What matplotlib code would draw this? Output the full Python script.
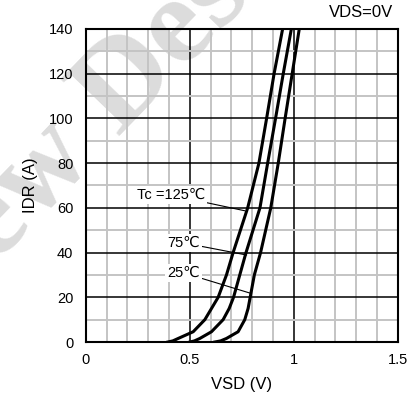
import matplotlib
matplotlib.use('Agg')
import matplotlib.pyplot as plt
from matplotlib.ticker import MultipleLocator

plt.rcParams['font.family'] = ['Liberation Sans', 'DejaVu Sans']

# values
idr = [0, 0.5, 1.6, 4.6, 10, 15, 20, 30, 40, 60, 80, 100, 120, 140]
vsd_125 = [0.394, 0.418, 0.444, 0.516, 0.572, 0.604, 0.636, 0.676, 0.708, 0.778, 0.832, 0.869, 0.905, 0.946]
vsd_75 = [0.50, 0.522, 0.548, 0.604, 0.66, 0.689, 0.71, 0.74, 0.77, 0.837, 0.874, 0.912, 0.949, 0.988]
vsd_25 = [0.62, 0.648, 0.676, 0.732, 0.764, 0.78, 0.79, 0.81, 0.84, 0.889, 0.925, 0.958, 0.992, 1.026]

x_ticks = [0, 0.5, 1, 1.5]
x_tick_labels = ['0', '0.5', '1', '1.5']
y_ticks = [0, 20, 40, 60, 80, 100, 120, 140]

fig = plt.figure(figsize=(4.17, 3.97), dpi=100)
ax = fig.add_axes([0.206, 0.1385, 0.748, 0.7885])
ax.set_facecolor('none')

# watermark
fig.text(0.312, 0.79, 'New Design', rotation=46, rotation_mode='anchor',
         ha='center', va='center', fontsize=90, fontweight='bold',
         family='Liberation Serif', color='#dcdcdc', zorder=-10)

for v in [vsd_125, vsd_75, vsd_25]:
    ax.plot(v, idr, color='black', lw=2.2, zorder=5)

ax.set_xlim(0, 1.5)
ax.set_ylim(0, 140)
ax.set_xticks(x_ticks)
ax.set_xticklabels(x_tick_labels)
ax.set_yticks(y_ticks)
ax.xaxis.set_minor_locator(MultipleLocator(0.1))
ax.yaxis.set_minor_locator(MultipleLocator(10))
ax.grid(which='minor', color='#c4c4c4', lw=1.4, zorder=1)
ax.grid(which='major', color='black', lw=1.1, zorder=2)
ax.set_axisbelow(True)
ax.tick_params(which='both', length=0, labelsize=10.5)
ax.tick_params(axis='y', pad=9)
ax.tick_params(axis='x', pad=8)
for s in ax.spines.values():
    s.set_linewidth(1.5)

ax.set_xlabel('VSD (V)', fontsize=12, labelpad=7)
ax.set_ylabel('IDR (A)', fontsize=12, labelpad=8)
fig.text(0.942, 0.968, 'VDS=0V', ha='right', va='center', fontsize=12)

box = dict(facecolor='white', edgecolor='none', pad=1.5)
lead = dict(arrowstyle='-', color='black', lw=0.8, shrinkA=0, shrinkB=0)
ax.annotate('Tc =125℃', xy=(0.764, 58.7), xytext=(0.409, 65.7), fontsize=10.5,
            ha='center', va='center', bbox=box, arrowprops=lead, zorder=6)
ax.annotate('75℃', xy=(0.773, 38.9), xytext=(0.471, 44.3), fontsize=10.5,
            ha='center', va='center', bbox=box, arrowprops=lead, zorder=6)
ax.annotate('25℃', xy=(0.792, 21.8), xytext=(0.471, 30.9), fontsize=10.5,
            ha='center', va='center', bbox=box, arrowprops=lead, zorder=6)

fig.savefig('out.png', dpi=100)
